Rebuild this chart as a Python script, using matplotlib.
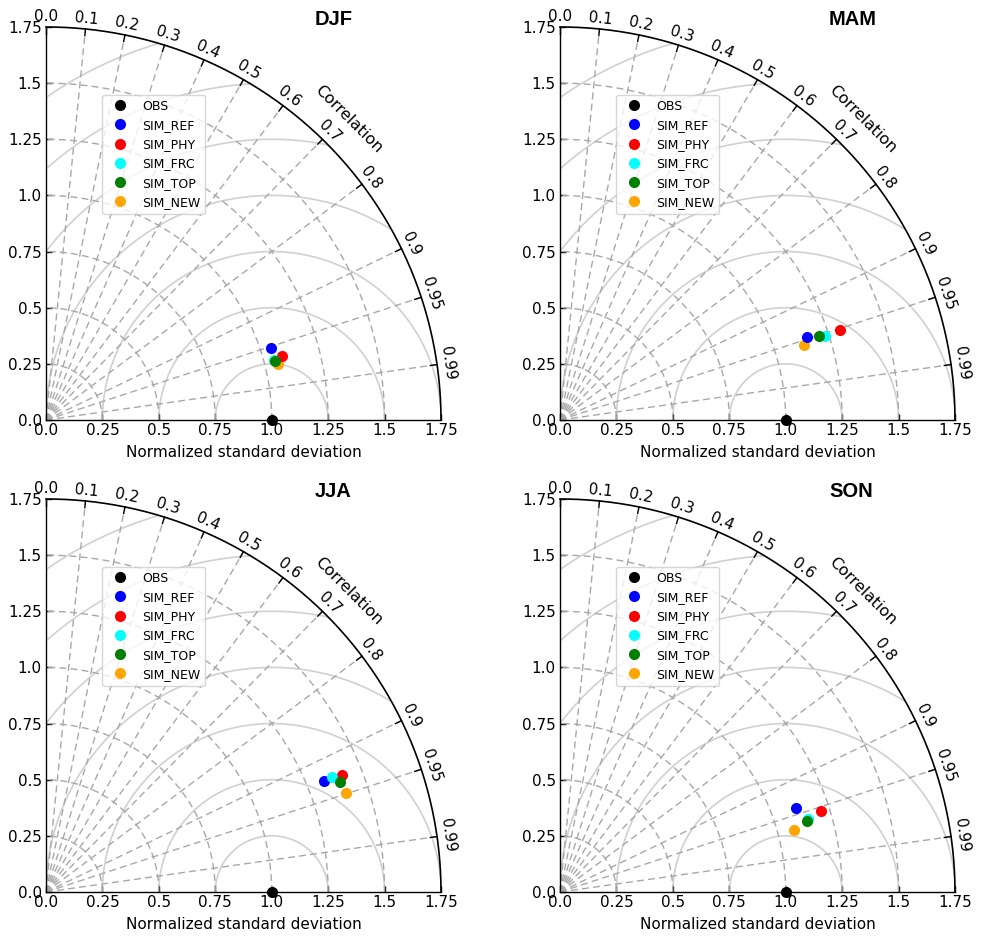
import numpy as np
import matplotlib.pyplot as plt

# Taylor diagram values
seasons = ['DJF', 'MAM', 'JJA', 'SON']
models = ['SIM_REF', 'SIM_PHY', 'SIM_FRC', 'SIM_TOP', 'SIM_NEW']
colors = ['blue', 'red', 'cyan', 'green', 'orange']
zorders = [5, 5, 5, 6, 4]

# normalized standard deviation (same order as models)
std_djf = [1.046, 1.082, 1.046, 1.049, 1.057]
std_mam = [1.157, 1.303, 1.232, 1.208, 1.130]
std_jja = [1.328, 1.411, 1.366, 1.393, 1.401]
std_son = [1.111, 1.211, 1.148, 1.138, 1.071]

# correlation with observations
cor_djf = [0.952, 0.965, 0.967, 0.968, 0.972]
cor_mam = [0.947, 0.952, 0.953, 0.951, 0.955]
cor_jja = [0.928, 0.929, 0.927, 0.936, 0.949]
cor_son = [0.942, 0.955, 0.959, 0.961, 0.966]

obs_std = 1.0
smax = 1.75
std_ticks = [0.0, 0.25, 0.5, 0.75, 1.0, 1.25, 1.5, 1.75]
std_labels = ['0.0', '0.25', '0.5', '0.75', '1.0', '1.25', '1.5', '1.75']
corr_ticks = [0.0, 0.1, 0.2, 0.3, 0.4, 0.5, 0.6, 0.7, 0.8, 0.9, 0.95, 0.99]
corr_labels = ['0.0', '0.1', '0.2', '0.3', '0.4', '0.5', '0.6', '0.7', '0.8', '0.9', '0.95', '0.99']
rms_levels = [0.25, 0.5, 0.75, 1.0, 1.25, 1.5, 1.75]

W, H = 981, 940
# axes rectangles in pixels: (x of origin, y of origin)
origins = [(46, 420), (560, 420), (46, 892), (560, 892)]
AX_W, AX_H = 395, 393

GRID_C = '#a8a8a8'
RMS_C = '#d0d0d0'
FS = 11


def taylor_panel(fig, origin, season, stds, cors):
    x0, y0 = origin
    ax = fig.add_axes([x0 / W, 1 - y0 / H, AX_W / W, AX_H / H])
    ax.set_xlim(0, smax)
    ax.set_ylim(0, smax)
    for s in ['top', 'right']:
        ax.spines[s].set_visible(False)
    for s in ['left', 'bottom']:
        ax.spines[s].set_linewidth(1.0)
    ax.set_xticks(std_ticks)
    ax.set_xticklabels(std_labels)
    ax.set_yticks(std_ticks)
    ax.set_yticklabels(std_labels)
    ax.tick_params(direction='in', length=4, width=1, labelsize=FS, pad=3)
    ax.tick_params(axis='x', pad=2)
    ax.set_xlabel('Normalized standard deviation', fontsize=FS, labelpad=5)

    # RMS difference contours around the reference point
    g = np.linspace(0, smax, 600)
    gx, gy = np.meshgrid(g, g)
    rms = np.sqrt((gx - obs_std) ** 2 + gy ** 2)
    rms[np.hypot(gx, gy) > smax] = np.nan
    ax.contour(gx, gy, rms, levels=rms_levels, colors=RMS_C, linewidths=1.2, zorder=1)

    # standard deviation arcs
    t = np.linspace(0, np.pi / 2, 300)
    for r in std_ticks[1:-1]:
        ax.plot(r * np.cos(t), r * np.sin(t), color=GRID_C, lw=1, dashes=(5, 3), zorder=2)
    ax.plot(smax * np.cos(t), smax * np.sin(t), color='black', lw=1.2, clip_on=False, zorder=3)

    # correlation rays, ticks and labels
    for c, lab in zip(corr_ticks, corr_labels):
        th = np.arccos(c)
        if c > 0:
            ax.plot([0, smax * np.cos(th)], [0, smax * np.sin(th)], color=GRID_C, lw=1,
                    dashes=(5, 3), zorder=2)
        ax.plot([smax * np.cos(th), (smax - 0.03) * np.cos(th)],
                [smax * np.sin(th), (smax - 0.03) * np.sin(th)],
                color='black', lw=1, clip_on=False, zorder=3)
        rl = smax + 0.048
        ax.text(rl * np.cos(th), rl * np.sin(th), lab, rotation=np.degrees(th) - 90,
                rotation_mode='anchor', ha='center', va='center', fontsize=FS, clip_on=False)
    th = np.radians(45)
    ax.text(1.895 * np.cos(th), 1.895 * np.sin(th), 'Correlation', rotation=-45,
            rotation_mode='anchor', ha='center', va='center', fontsize=FS + 0.5)

    # points
    ax.plot([obs_std], [0], 'o', color='black', ms=8, mec='none', label='OBS',
            clip_on=False, zorder=7)
    for name, col, zo, s, c in zip(models, colors, zorders, stds, cors):
        th = np.arccos(c)
        ax.plot([s * np.cos(th)], [s * np.sin(th)], 'o', color=col, ms=8, mec='none',
                label=name, zorder=zo)

    ax.legend(loc='upper left', bbox_to_anchor=(0.142, 0.828), numpoints=1, fontsize=9,
              borderaxespad=0)
    ax.text(0.681, 1.02, season, transform=ax.transAxes, ha='left', va='center',
            fontsize=14.5, fontweight='bold', family='Liberation Sans')
    return ax


fig = plt.figure(figsize=(W / 100, H / 100), dpi=100)
all_std = [std_djf, std_mam, std_jja, std_son]
all_cor = [cor_djf, cor_mam, cor_jja, cor_son]
for org, sea, s, c in zip(origins, seasons, all_std, all_cor):
    taylor_panel(fig, org, sea, s, c)

fig.savefig('out.png', dpi=100)
